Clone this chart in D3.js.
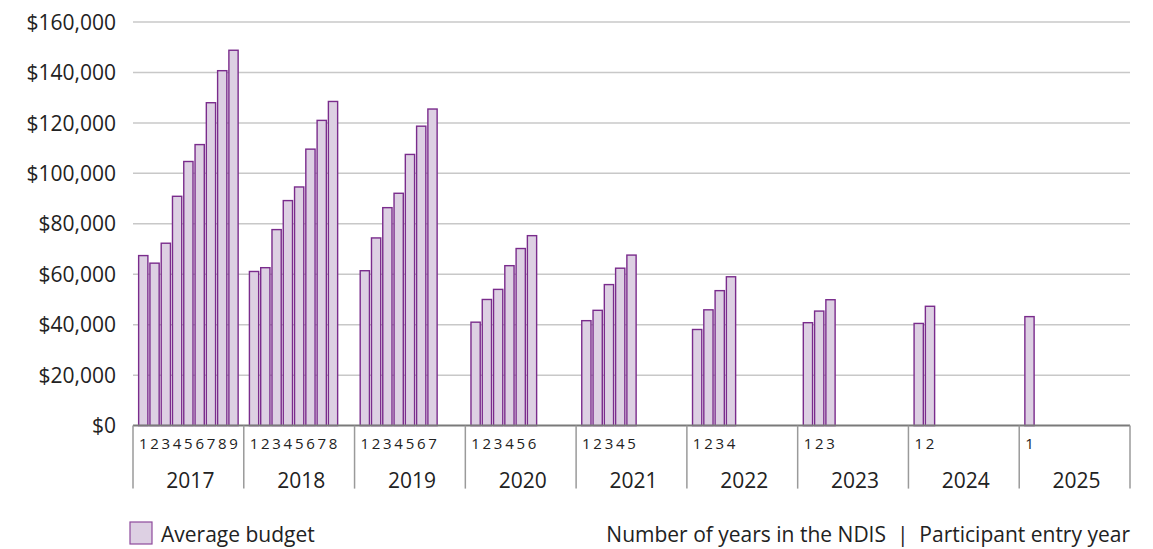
<!DOCTYPE html>
<html>
<head>
<meta charset="utf-8">
<script src="https://cdn.jsdelivr.net/npm/d3@7/dist/d3.min.js"></script>
<style>
  html, body { margin: 0; padding: 0; background: #ffffff; }
  svg { display: block; }
  text { font-family: "Open Sans", "Noto Sans", sans-serif; fill: #222222; }
</style>
</head>
<body>
<svg id="chart" width="1153" height="549"></svg>
<script>
// Participant entry years (outer category level)
const entryYears = ["2017", "2018", "2019", "2020", "2021", "2022", "2023", "2024", "2025"];

// Average budget by number of years in the NDIS, one array per entry year
const budget2017 = [67400, 64400, 72300, 90900, 104700, 111400, 128000, 140700, 148800];
const budget2018 = [61100, 62600, 77700, 89200, 94600, 109600, 121000, 128500];
const budget2019 = [61400, 74400, 86400, 92100, 107500, 118700, 125500];
const budget2020 = [41000, 50000, 54000, 63400, 70200, 75300];
const budget2021 = [41600, 45700, 55900, 62400, 67600];
const budget2022 = [38100, 45900, 53500, 59000];
const budget2023 = [40800, 45400, 49900];
const budget2024 = [40500, 47300];
const budget2025 = [43200];

// Y axis ticks
const yTicks = [0, 20000, 40000, 60000, 80000, 100000, 120000, 140000, 160000];

const seriesName = "Average budget";
const axisNote = "Number of years in the NDIS  |  Participant entry year";

const budgets = [budget2017, budget2018, budget2019, budget2020, budget2021,
                 budget2022, budget2023, budget2024, budget2025];
const maxYears = d3.max(budgets, b => b.length);
const yearNumbers = d3.range(1, maxYears + 1);

const rows = [];
entryYears.forEach((yr, i) => {
  budgets[i].forEach((v, j) => rows.push({ entry: yr, n: j + 1, value: v }));
});

const margin = { left: 133, right: 23, top: 22, bottom: 123.4 };
const W = 1153, H = 549;
const plotW = W - margin.left - margin.right;
const plotBottom = H - margin.bottom;

const svg = d3.select("#chart");

const x0 = d3.scaleBand()
  .domain(entryYears)
  .range([margin.left, margin.left + plotW])
  .paddingInner(0).paddingOuter(0);

const x1 = d3.scaleBand()
  .domain(yearNumbers)
  .range([0, x0.bandwidth()])
  .paddingInner(0.18)
  .paddingOuter(0.5);

const y = d3.scaleLinear()
  .domain([0, 160000])
  .range([plotBottom, margin.top]);

// Horizontal gridlines
svg.append("g")
  .selectAll("line")
  .data(yTicks.filter(t => t > 0))
  .join("line")
  .attr("x1", margin.left)
  .attr("x2", margin.left + plotW)
  .attr("y1", d => y(d))
  .attr("y2", d => y(d))
  .attr("stroke", "#c8c8c8")
  .attr("stroke-width", 1.5);

// Y axis labels
const fmt = d => "$" + d3.format(",")(d);
const yAxis = d3.axisLeft(y).tickValues(yTicks).tickFormat(fmt).tickSize(0).tickPadding(17);
const gy = svg.append("g")
  .attr("transform", `translate(${margin.left},0)`)
  .call(yAxis);
gy.select(".domain").remove();
gy.selectAll("text")
  .style("font-size", "21px")
  .attr("fill", "#222222")
  .attr("dy", "0.34em");

// Bars
svg.append("g")
  .selectAll("rect")
  .data(rows)
  .join("rect")
  .attr("x", d => x0(d.entry) + x1(d.n))
  .attr("y", d => y(d.value))
  .attr("width", x1.bandwidth())
  .attr("height", d => y(0) - y(d.value))
  .attr("fill", "#ddd0e3")
  .attr("stroke", "#7a2c8c")
  .attr("stroke-width", 1.4);

// Category axis line
svg.append("line")
  .attr("x1", margin.left)
  .attr("x2", margin.left + plotW)
  .attr("y1", y(0))
  .attr("y2", y(0))
  .attr("stroke", "#7a7a7a")
  .attr("stroke-width", 2);

// Group separators
const bounds = entryYears.map(e => x0(e)).concat([margin.left + plotW]);
svg.append("g")
  .selectAll("line")
  .data(bounds)
  .join("line")
  .attr("x1", d => d)
  .attr("x2", d => d)
  .attr("y1", y(0))
  .attr("y2", y(0) + 63)
  .attr("stroke", "#9a9a9a")
  .attr("stroke-width", 1.5);

// Inner labels: number of years in the NDIS
svg.append("g")
  .selectAll("text")
  .data(rows)
  .join("text")
  .attr("x", d => x0(d.entry) + x1(d.n) + x1.bandwidth() / 2)
  .attr("y", y(0) + 23)
  .attr("text-anchor", "middle")
  .style("font-size", "15px")
  .text(d => d.n);

// Outer labels: participant entry year
svg.append("g")
  .selectAll("text")
  .data(entryYears)
  .join("text")
  .attr("x", d => x0(d) + x0.bandwidth() / 2 + 2)
  .attr("y", y(0) + 62)
  .attr("text-anchor", "middle")
  .style("font-size", "21px")
  .text(d => d);

// Legend
const lg = svg.append("g").attr("transform", "translate(130,522)");
lg.append("rect")
  .attr("width", 22).attr("height", 22)
  .attr("fill", "#ddd0e3")
  .attr("stroke", "#8e4a9c")
  .attr("stroke-width", 1.2);
lg.append("text")
  .attr("x", 31).attr("y", 20)
  .style("font-size", "21px")
  .text(seriesName);

// Axis description
svg.append("text")
  .attr("x", margin.left + plotW)
  .attr("y", 542)
  .attr("text-anchor", "end")
  .style("font-size", "21px")
  .style("white-space", "pre")
  .attr("xml:space", "preserve")
  .text(axisNote);
</script>
</body>
</html>
